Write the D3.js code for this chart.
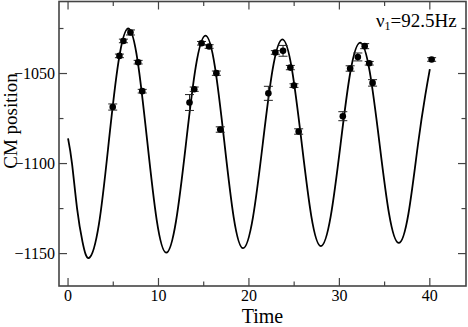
<!DOCTYPE html>
<html>
<head>
<meta charset="utf-8">
<script src="https://cdn.jsdelivr.net/npm/d3@7"></script>
<style>
  body { margin: 0; background: #fff; }
  svg { display: block; font-family: "Liberation Serif", "DejaVu Serif", serif; }
</style>
</head>
<body>
<div class="cm-chart"></div>
<script>
// measured points (time, CM position, error)
var pointTime = [4.94, 5.68, 6.12, 6.9, 7.75, 8.2,
                 13.43, 13.95, 14.76, 15.6, 16.4, 16.83,
                 22.15, 22.92, 23.77, 24.58, 24.98, 25.5,
                 30.38, 31.19, 32.04, 32.8, 33.3, 33.67,
                 40.2];
var pointPos = [-1068.6, -1040.2, -1031.9, -1027.2, -1043.7, -1059.8,
                -1066.1, -1058.7, -1033.2, -1035.0, -1049.8, -1081.1,
                -1061.0, -1038.3, -1037.4, -1046.7, -1056.7, -1082.2,
                -1073.7, -1047.2, -1040.8, -1034.8, -1044.3, -1055.2,
                -1042.2];
var pointErr = [1.7, 1.0, 1.0, 1.4, 1.0, 1.0,
                4.4, 1.2, 1.0, 1.0, 1.2, 1.5,
                3.9, 1.0, 3.0, 1.2, 1.0, 1.5,
                2.5, 1.5, 2.2, 1.4, 1.0, 1.8,
                1.0];

// fitted curve (extrema and points between them)
var fitTime = [0, 0.44, 1.0, 1.6, 2.33, 3.41, 4.49, 5.57, 6.65, 7.7, 8.75, 9.8,
               10.85, 11.94, 13.03, 14.11, 15.2, 16.24, 17.28, 18.31,
               19.35, 20.44, 21.53, 22.61, 23.7, 24.76, 25.83, 26.89,
               27.95, 29.04, 30.13, 31.21, 32.3, 33.36, 34.43, 35.49,
               36.55, 37.63, 38.7, 39.5, 40.0];
var fitPos = [-1086, -1100, -1125, -1143.5, -1152.4, -1133.8, -1088.7, -1043.7, -1025.0, -1043.2, -1087.3, -1131.3,
              -1149.5, -1131.9, -1089.3, -1046.6, -1029.0, -1046.3, -1088.0, -1129.7,
              -1147.0, -1130.0, -1089.0, -1048.0, -1031.0, -1047.8, -1088.4, -1129.0,
              -1145.8, -1129.3, -1089.3, -1049.3, -1032.8, -1049.1, -1088.5, -1127.8,
              -1144.1, -1128.0, -1089.0, -1062.0, -1047.6];

var xTicks = [0, 10, 20, 30, 40];
var xMinor = [5, 15, 25, 35];
var yTicks = [-1150, -1100, -1050];
var yMinor = [-1125, -1075, -1025];

var width = 468;
var height = 327;
var plotL = 59, plotR = 466, plotT = 1.5, plotB = 286;

var svg = d3.select(".cm-chart")
            .append("svg")
              .attr("width", width)
              .attr("height", height);

var xScale = d3.scaleLinear()
               .domain([-1, 44])
               .range([plotL, plotR]);

var yScale = d3.scaleLinear()
               .domain([-1168, -1010])
               .range([plotB, plotT]);

var frameColor = "#444";

// inward ticks on all four sides
function tickLines(values, len, horizontal) {
  values.forEach(function(v) {
    if (horizontal) {
      var x = xScale(v);
      svg.append("line").attr("x1", x).attr("x2", x).attr("y1", plotB).attr("y2", plotB - len)
        .attr("stroke", frameColor).attr("stroke-width", 1.2);
      svg.append("line").attr("x1", x).attr("x2", x).attr("y1", plotT).attr("y2", plotT + len)
        .attr("stroke", frameColor).attr("stroke-width", 1.2);
    } else {
      var y = yScale(v);
      svg.append("line").attr("x1", plotL).attr("x2", plotL + len).attr("y1", y).attr("y2", y)
        .attr("stroke", frameColor).attr("stroke-width", 1.2);
      svg.append("line").attr("x1", plotR).attr("x2", plotR - len).attr("y1", y).attr("y2", y)
        .attr("stroke", frameColor).attr("stroke-width", 1.2);
    }
  });
}
tickLines(xTicks, 8, true);
tickLines(xMinor, 4.5, true);
tickLines(yTicks, 8, false);
tickLines(yMinor, 4.5, false);

// frame
svg.append("rect")
  .attr("x", plotL)
  .attr("y", plotT)
  .attr("width", plotR - plotL)
  .attr("height", plotB - plotT)
  .attr("fill", "none")
  .attr("stroke", frameColor)
  .attr("stroke-width", 1.6);

// tick labels
svg.selectAll(".xlab")
  .data(xTicks)
  .enter()
  .append("text")
  .attr("class", "xlab")
  .attr("x", function(d) { return xScale(d); })
  .attr("y", 301)
  .attr("text-anchor", "middle")
  .attr("font-size", "16px")
  .text(function(d) { return d3.format("d")(d); });

svg.selectAll(".ylab")
  .data(yTicks)
  .enter()
  .append("text")
  .attr("class", "ylab")
  .attr("x", 55)
  .attr("y", function(d) { return yScale(d) + 5.5; })
  .attr("text-anchor", "end")
  .attr("font-size", "16px")
  .text(function(d) { return d3.format("d")(d); });

// axis titles
svg.append("text")
  .attr("x", (plotL + plotR) / 2)
  .attr("y", 323)
  .attr("text-anchor", "middle")
  .attr("font-size", "20px")
  .text("Time");

svg.append("text")
  .attr("transform", "translate(17,121) rotate(-90)")
  .attr("text-anchor", "middle")
  .attr("font-size", "19px")
  .text("CM position");

// fitted curve
var fitData = fitTime.map(function(t, i) { return [t, fitPos[i]]; });
var line = d3.line()
  .x(function(d) { return xScale(d[0]); })
  .y(function(d) { return yScale(d[1]); })
  .curve(d3.curveNatural);

svg.append("path")
  .datum(fitData)
  .attr("d", line)
  .attr("fill", "none")
  .attr("stroke", "#000")
  .attr("stroke-width", 1.8);

// error bars + points
var points = pointTime.map(function(t, i) { return { t: t, v: pointPos[i], e: pointErr[i] }; });

var bars = svg.selectAll(".err")
  .data(points)
  .enter()
  .append("g")
  .attr("class", "err")
  .attr("stroke", "#222")
  .attr("stroke-width", 1);

bars.append("line")
  .attr("x1", function(d) { return xScale(d.t); })
  .attr("x2", function(d) { return xScale(d.t); })
  .attr("y1", function(d) { return yScale(d.v + d.e); })
  .attr("y2", function(d) { return yScale(d.v - d.e); });

[1, -1].forEach(function(s) {
  bars.append("line")
    .attr("x1", function(d) { return xScale(d.t) - 4.5; })
    .attr("x2", function(d) { return xScale(d.t) + 4.5; })
    .attr("y1", function(d) { return yScale(d.v + s * d.e); })
    .attr("y2", function(d) { return yScale(d.v + s * d.e); });
});

svg.selectAll(".pt")
  .data(points)
  .enter()
  .append("circle")
  .attr("class", "pt")
  .attr("cx", function(d) { return xScale(d.t); })
  .attr("cy", function(d) { return yScale(d.v); })
  .attr("r", 3.3)
  .attr("fill", "#000");

// legend text
var legend = svg.append("text")
  .attr("x", 376)
  .attr("y", 27)
  .attr("font-size", "19px");
legend.append("tspan").text("ν");
legend.append("tspan").attr("font-size", "12px").attr("dy", 3).text("1");
legend.append("tspan").attr("dy", -3).text("=92.5Hz");
</script>
</body>
</html>
